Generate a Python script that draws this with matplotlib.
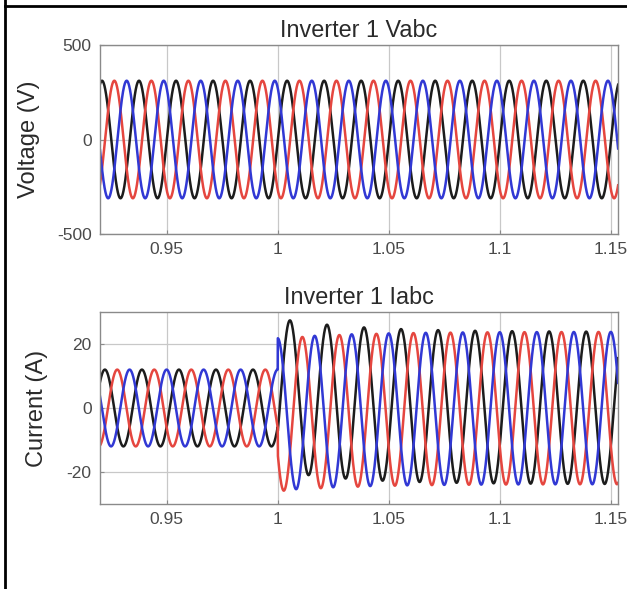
"""Inverter 1 phase voltages and currents around the load step at t = 1 s."""

import numpy as np
import matplotlib.pyplot as plt
from matplotlib.lines import Line2D

plt.rcParams['font.family'] = ['Liberation Sans', 'DejaVu Sans']
plt.rcParams['axes.unicode_minus'] = False

# values
freq = 60.0                      # Hz, 3 cycles between grid lines 1.05 and 1.1
phase_colors = ['#1c1c1c', '#e5463f', '#3138d4']   # a (black), b (red), c (blue)
phase_delay = [0.0, 1 / 3, 2 / 3]                  # fraction of a period
v_amp = 311.0                    # V peak
v_peak_t = 0.9209                # first peak of phase a
i_amp_before = 12.0              # A peak before the step
i_amp_after = 23.8               # A peak after the step
i_lag = 0.0013                   # s, current behind voltage
t_step = 1.0
i_offset = [4.2, -2.2, -2.0]     # decaying dc part of each phase after the step
i_tau = 0.035

xlim = (0.92, 1.1532)
xticks = [0.95, 1.0, 1.05, 1.1, 1.15]
xticklabels = ['0.95', '1', '1.05', '1.1', '1.15']
v_ticks = [-500, 0, 500]
i_ticks = [-20, 0, 20]

t = np.arange(0.915, 1.16, 1 / 20000)

W, H = 627, 589
fig = plt.figure(figsize=(W / 100, H / 100), dpi=100)


def px_axes(left, top, right, bottom):
    return fig.add_axes([left / W, 1 - bottom / H, (right - left) / W, (bottom - top) / H])


def style(ax, title, ylabel, yticks, ylim, label_x):
    ax.set_xlim(*xlim)
    ax.set_ylim(*ylim)
    ax.set_xticks(xticks)
    ax.set_xticklabels(xticklabels)
    ax.set_yticks(yticks)
    ax.grid(True, color='#c8c8c8', linewidth=0.9)
    ax.set_axisbelow(True)
    for sp in ax.spines.values():
        sp.set_color('#8a8a8a')
        sp.set_linewidth(1.0)
    ax.tick_params(direction='in', length=3, colors='#8a8a8a',
                   labelcolor='#4a4a4a', labelsize=12.5, pad=6)
    ax.set_title(title, fontsize=16.8, color='#2a2a2a', pad=6)
    ax.set_ylabel(ylabel, fontsize=17, color='#2a2a2a')
    ax.yaxis.set_label_coords(label_x, 0.5)


ax_v = px_axes(100, 45, 618, 234)
for color, d in zip(phase_colors, phase_delay):
    v = v_amp * np.cos(2 * np.pi * freq * (t - v_peak_t) - 2 * np.pi * d)
    ax_v.plot(t, v, color=color, linewidth=1.8)
style(ax_v, 'Inverter 1 Vabc', 'Voltage (V)', v_ticks, (-500, 500), -0.116)

ax_i = px_axes(100, 312, 618, 504)
for color, d, off in zip(phase_colors, phase_delay, i_offset):
    wave = np.cos(2 * np.pi * freq * (t - v_peak_t - i_lag) - 2 * np.pi * d)
    after = t >= t_step
    amp = np.where(after, i_amp_after, i_amp_before)
    dc = np.where(after, off * np.exp(-(t - t_step) / i_tau), 0.0)
    ax_i.plot(t, amp * wave + dc, color=color, linewidth=1.8)
style(ax_i, 'Inverter 1 Iabc', 'Current (A)', i_ticks, (-30, 30), -0.100)

# table cell border around the figure
fig.add_artist(Line2D([5 / W, 5 / W], [0, 1], color='black', linewidth=2))
fig.add_artist(Line2D([5 / W, 1], [1 - 6 / H, 1 - 6 / H], color='black', linewidth=2))

fig.savefig('out.png', dpi=100)
